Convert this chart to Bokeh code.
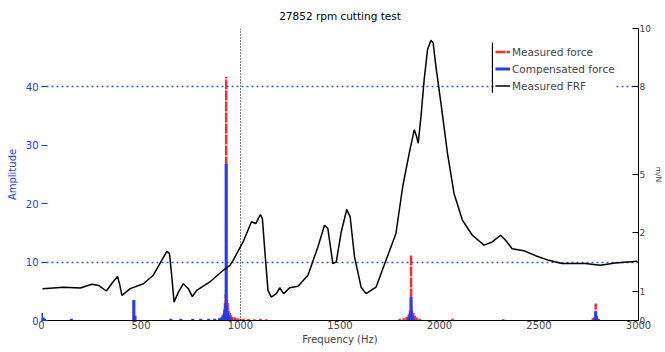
from bokeh.plotting import figure
from bokeh.models import (Range1d, LinearAxis, FixedTicker, Span, Legend,
                          LegendItem, ColumnDataSource)
from bokeh.embed import file_html
from bokeh.resources import INLINE

TITLE = "27852 rpm cutting test"
X_LABEL = "Frequency (Hz)"
LEFT_LABEL = "Amplitude"
RIGHT_LABEL = "m/N"
X_TICKS = [0, 500, 1000, 1500, 2000, 2500, 3000]
LEFT_TICKS = [0, 10, 20, 30, 40]
GRID_TICKS = [10, 40]
RIGHT_TICKS = [0, 1, 3, 5, 8, 10]
RIGHT_LABELS = ["0", "1", "2", "5", "8", "10"]
MARK_FREQ = 1000

# Measured FRF (right axis)
frf_freq = [5, 112, 195, 254, 287, 326, 359, 382, 392, 404, 446, 512, 562, 604,
            630, 643, 655, 666, 688, 713, 738, 758, 780, 846, 913, 947, 963,
            1013, 1055, 1077, 1100, 1110, 1122, 1138, 1155, 1180, 1197, 1217,
            1247, 1289, 1339, 1389, 1422, 1439, 1464, 1481, 1506, 1534, 1551,
            1573, 1606, 1631, 1681, 1731, 1781, 1815, 1848, 1873, 1885, 1893,
            1907, 1923, 1940, 1957, 1968, 1982, 2007, 2040, 2073, 2115, 2165,
            2224, 2265, 2307, 2332, 2365, 2424, 2483, 2549, 2616, 2733, 2808,
            2883, 2995]
frf_mag = [1.09, 1.14, 1.11, 1.24, 1.20, 1.01, 1.32, 1.51, 1.26, 0.86, 1.09,
           1.26, 1.55, 2.06, 2.37, 2.29, 1.49, 0.63, 0.97, 1.26, 1.09, 0.82,
           1.03, 1.32, 1.72, 1.89, 2.06, 2.69, 3.38, 3.32, 3.63, 3.49, 2.41,
           1.03, 0.80, 0.92, 1.12, 0.92, 1.12, 1.17, 1.55, 2.52, 3.26, 3.15,
           1.95, 2.00, 3.03, 3.80, 3.55, 2.18, 1.14, 0.92, 1.14, 2.06, 2.98,
           4.58, 5.73, 6.53, 6.30, 6.07, 6.99, 8.25, 9.28, 9.60, 9.51, 8.70,
           7.45, 5.73, 4.35, 3.44, 2.92, 2.58, 2.69, 2.92, 2.75, 2.46, 2.39,
           2.22, 2.06, 1.95, 1.95, 1.89, 1.97, 2.03]

# Measured force spectrum (left axis)
meas_freq = [464, 905, 912, 918, 922, 926, 928, 931, 935, 940, 946, 952, 960,
             972, 985, 1000, 1015, 1040, 1070, 1100, 1130, 1800, 1820, 1835,
             1845, 1852, 1857, 1862, 1868, 1876, 1885, 1900, 2065, 2320, 2770,
             2780, 2785, 2790, 2800]
measured_force = [3.0, 0.5, 1.0, 1.8, 3.0, 4.5, 41.7, 4.0, 3.0, 2.0, 1.3, 0.9,
                  0.6, 0.5, 0.4, 0.3, 0.3, 0.3, 0.2, 0.3, 0.2, 0.3, 0.4, 0.6,
                  1.0, 1.8, 11.3, 2.0, 1.3, 0.8, 0.5, 0.3, 0.3, 0.2, 0.4, 0.6,
                  2.9, 0.8, 0.3]

# Compensated force spectrum (left axis)
comp_freq = [0, 8, 16, 150, 464, 470, 650, 700, 760, 800, 840, 870, 895,
             905, 912, 918, 922, 926, 928, 931, 935, 940, 946, 952, 1845, 1852,
             1857, 1862, 1868, 2780, 2785, 2790]
compensated_force = [1.3, 0.5, 0.3, 0.3, 3.5, 0.8, 0.3, 0.3, 0.3, 0.3,
                     0.3, 0.3, 0.4, 0.5, 0.8, 1.2, 2.0, 2.8, 26.8, 2.5, 1.6,
                     1.0, 0.6, 0.4, 0.5, 1.2, 4.0, 1.0, 0.5, 0.4, 1.5, 0.5]

FONT = "DejaVu Sans"
BLUE = "#1e3cff"
GRID_BLUE = "#2f55ff"
RED = "#ff2a2a"

p = figure(width=665, height=352, title=TITLE,
           x_range=Range1d(0, 3000), y_range=Range1d(0, 50),
           output_backend="svg", toolbar_location=None,
           min_border_left=41, min_border_right=25,
           min_border_top=27, min_border_bottom=32)
p.background_fill_color = "white"
p.border_fill_color = "white"
p.outline_line_color = None

p.title.text_font = FONT
p.title.text_font_size = "10.5px"
p.title.text_font_style = "normal"
p.title.align = "center"
p.title.text_color = "black"
p.title.standoff = 14

p.xgrid.visible = False
g = p.ygrid[0]
g.ticker = FixedTicker(ticks=GRID_TICKS)
g.grid_line_color = GRID_BLUE
g.grid_line_dash = "2 3"
g.grid_line_width = 1.3

# bottom axis
xa = p.xaxis[0]
xa.ticker = FixedTicker(ticks=X_TICKS)
xa.axis_label = X_LABEL
xa.axis_label_text_font = FONT
xa.axis_label_text_font_size = "10px"
xa.axis_label_text_font_style = "normal"
xa.axis_label_standoff = 2
xa.major_label_text_font = FONT
xa.major_label_text_font_size = "10px"
xa.major_label_standoff = 0
xa.major_tick_line_color = None
xa.minor_tick_line_color = None
xa.major_tick_out = 0
xa.major_tick_in = 0
xa.axis_line_color = "black"

# left axis
ya = p.yaxis[0]
ya.ticker = FixedTicker(ticks=LEFT_TICKS)
ya.axis_label = LEFT_LABEL
ya.axis_label_text_font = FONT
ya.axis_label_text_font_size = "10px"
ya.axis_label_text_font_style = "normal"
ya.axis_label_text_color = BLUE
ya.axis_label_standoff = 5
ya.major_label_text_font = FONT
ya.major_label_text_font_size = "10px"
ya.major_label_text_color = BLUE
ya.major_label_standoff = 3
ya.axis_line_color = None
ya.major_tick_in = 6
ya.major_tick_out = 0
ya.major_tick_line_color = BLUE
ya.minor_tick_line_color = None

# right axis
p.extra_y_ranges = {"frf": Range1d(0, 10)}
ra = LinearAxis(y_range_name="frf", ticker=FixedTicker(ticks=RIGHT_TICKS),
                major_label_overrides=dict(zip(RIGHT_TICKS, RIGHT_LABELS)))
ra.major_label_text_font = FONT
ra.major_label_text_font_size = "9px"
ra.major_label_standoff = 1
ra.axis_label = RIGHT_LABEL
ra.axis_label_text_font = FONT
ra.axis_label_text_font_size = "7.5px"
ra.axis_label_text_font_style = "normal"
ra.axis_label_standoff = 0
ra.axis_line_color = "black"
ra.major_tick_in = 6
ra.major_tick_out = 0
ra.minor_tick_line_color = None
p.add_layout(ra, "right")

p.add_layout(Span(location=MARK_FREQ, dimension="height", line_color="black",
                  line_dash="1 2", line_width=1))

meas_src = ColumnDataSource(dict(f=meas_freq, a=measured_force,
                                 z=[0] * len(meas_freq)))
comp_src = ColumnDataSource(dict(f=comp_freq, a=compensated_force,
                                 z=[0] * len(comp_freq)))
frf_src = ColumnDataSource(dict(f=frf_freq, m=frf_mag))

r_meas = p.segment(x0="f", y0="z", x1="f", y1="a", source=meas_src,
                   line_color=RED, line_width=2.5, line_dash="10 1")
r_comp = p.segment(x0="f", y0="z", x1="f", y1="a", source=comp_src,
                   line_color=BLUE, line_width=3)
r_frf = p.line(x="f", y="m", source=frf_src, y_range_name="frf",
               line_color="black", line_width=1.5)

# legend left edge line
LEG_EDGE_F = 2266
LEG_EDGE_Y = (39.0, 47.6)
p.segment(x0=[LEG_EDGE_F], y0=[LEG_EDGE_Y[0]], x1=[LEG_EDGE_F],
          y1=[LEG_EDGE_Y[1]], line_color="black", line_width=1.2)

legend = Legend(items=[LegendItem(label="Measured force", renderers=[r_meas]),
                       LegendItem(label="Compensated force", renderers=[r_comp]),
                       LegendItem(label="Measured FRF", renderers=[r_frf])],
                location=(454, 227))
legend.border_line_color = None
legend.background_fill_color = "white"
legend.background_fill_alpha = 1
legend.label_text_font = FONT
legend.label_text_font_size = "10.5px"
legend.label_height = 15
legend.glyph_height = 15
legend.glyph_width = 15
legend.label_standoff = 2
legend.spacing = 2
legend.padding = 3
legend.margin = 0
p.add_layout(legend)

open("out.html", "w").write(file_html(p, INLINE))
